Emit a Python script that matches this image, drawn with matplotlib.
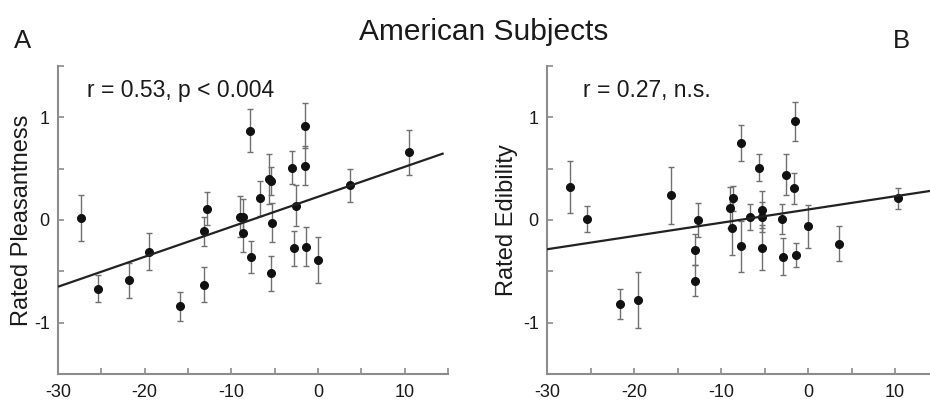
import matplotlib
matplotlib.use("Agg")
import matplotlib.pyplot as plt
import numpy as np
from matplotlib.ticker import FixedLocator, NullFormatter

plt.rcParams['font.family'] = ['Liberation Sans', 'DejaVu Sans']
plt.rcParams['axes.unicode_minus'] = False

# ---- data ----
left_x = [-27.4, -25.4, -21.8, -19.5, -15.9, -13.1, -13.2, -12.8, -9.05, -8.7, -8.7,
          -7.8, -7.7, -6.66, -5.6, -5.4, -5.3, -5.4, -2.96, -2.5, -2.8, -1.54, -1.54,
          -1.35, 0.0, 3.66, 10.5]
left_y = [0.02, -0.67, -0.585, -0.31, -0.84, -0.63, -0.11, 0.11, 0.03, 0.03, -0.13,
          0.87, -0.36, 0.21, 0.40, 0.38, -0.025, -0.52, 0.51, 0.14, -0.275, 0.92, 0.53,
          -0.26, -0.39, 0.34, 0.66]
left_err = [0.22, 0.13, 0.17, 0.18, 0.14, 0.17, 0.14, 0.16, 0.20, 0.17, 0.18,
            0.21, 0.16, 0.17, 0.24, 0.14, 0.19, 0.17, 0.16, 0.20, 0.17, 0.22, 0.19,
            0.19, 0.22, 0.16, 0.22]
left_fit = (0.0292, 0.226)   # slope, intercept
left_fit_range = (-30, 14.5)

right_x = [-27.3, -25.4, -21.6, -19.5, -15.8, -13.0, -13.0, -12.7, -9.0, -8.65, -8.7,
           -7.7, -7.7, -6.67, -5.6, -5.3, -5.3, -5.3, -2.95, -2.5, -2.84, -1.46, -1.57,
           -1.38, 0.0, 3.6, 10.4]
right_y = [0.32, 0.01, -0.82, -0.78, 0.24, -0.29, -0.59, 0.0, 0.12, 0.21, -0.08,
           0.75, -0.255, 0.03, 0.51, 0.10, 0.03, -0.27, 0.01, 0.44, -0.36, 0.96, 0.31,
           -0.34, -0.06, -0.23, 0.21]
right_err = [0.25, 0.13, 0.145, 0.27, 0.28, 0.15, 0.15, 0.17, 0.20, 0.12, 0.26,
             0.18, 0.25, 0.13, 0.13, 0.18, 0.15, 0.22, 0.15, 0.20, 0.18, 0.19, 0.15,
             0.12, 0.21, 0.17, 0.10]
right_fit = (0.0129, 0.102)
right_fit_range = (-30, 15)

xtick_labels = [-30, -20, -10, 0, 10]
ytick_labels = [-1, 0, 1]
title = "American Subjects"
ylabels = ["Rated Pleasantness", "Rated Edibility"]
annotations = ["r = 0.53, p < 0.004", "r = 0.27, n.s."]
panel_letters = ["A", "B"]

# ---- figure ----
W, H = 930, 401
fig = plt.figure(figsize=(W / 100, H / 100), dpi=100)

axes_px = [(58, 66, 390, 308), (547, 66, 391.5, 308)]  # left, top, width, height in px
label_x_px = [33, 518]
annot_x = [-26.6, -25.9]

spine_col = '#8c8c8c'
err_col = '#707070'

datasets = [(left_x, left_y, left_err, left_fit, left_fit_range),
            (right_x, right_y, right_err, right_fit, right_fit_range)]

for i, (l, t, w, h) in enumerate(axes_px):
    ax = fig.add_axes([l / W, (H - t - h) / H, w / W, h / H])
    xs, ys, es, fit, rng = datasets[i]
    ax.errorbar(xs, ys, yerr=es, fmt='none', ecolor=err_col, elinewidth=1.0,
                capsize=2.2, capthick=1.0, zorder=2)
    ax.plot(xs, ys, 'o', color='#111111', markersize=5.5, zorder=3)
    fx = np.array(rng)
    ax.plot(fx, fit[0] * fx + fit[1], color='#222222', linewidth=1.6, zorder=4,
            solid_capstyle='butt')
    ax.set_xlim(-30, 15)
    ax.set_ylim(-1.5, 1.5)
    ax.xaxis.set_major_locator(FixedLocator(xtick_labels))
    ax.xaxis.set_minor_locator(FixedLocator([-25, -15, -5, 5, 15]))
    ax.yaxis.set_major_locator(FixedLocator(ytick_labels))
    ax.yaxis.set_minor_locator(FixedLocator([-1.5, -0.5, 0.5, 1.5]))
    ax.yaxis.set_minor_formatter(NullFormatter())
    ax.xaxis.set_minor_formatter(NullFormatter())
    for s in ['top', 'right']:
        ax.spines[s].set_visible(False)
    for s in ['left', 'bottom']:
        ax.spines[s].set_color(spine_col)
        ax.spines[s].set_linewidth(1.5)
    ax.tick_params(which='both', direction='in', length=4, width=1.2, color=spine_col,
                   labelsize=13, labelcolor='#1a1a1a')
    ax.tick_params(axis='x', which='both', pad=7)
    ax.tick_params(axis='y', which='both', pad=6)
    ax.set_ylabel(ylabels[i], fontsize=17, color='#1a1a1a')
    ax.yaxis.set_label_coords((label_x_px[i] - l) / w, 0.5)
    ax.text(annot_x[i], 1.26, annotations[i], fontsize=16.5,
            color='#1a1a1a', ha='left', va='center')
    ax.patch.set_alpha(0)

fig.text(484 / W, 1 - 40 / H, title, fontsize=21.5, ha='center', va='baseline',
         color='#1a1a1a')
fig.text(14 / W, 1 - 48 / H, panel_letters[0], fontsize=18.5, ha='left', va='baseline',
         color='#1a1a1a')
fig.text(893 / W, 1 - 48 / H, panel_letters[1], fontsize=18.5, ha='left', va='baseline',
         color='#1a1a1a')

fig.savefig("out.png", dpi=100, facecolor='white')
